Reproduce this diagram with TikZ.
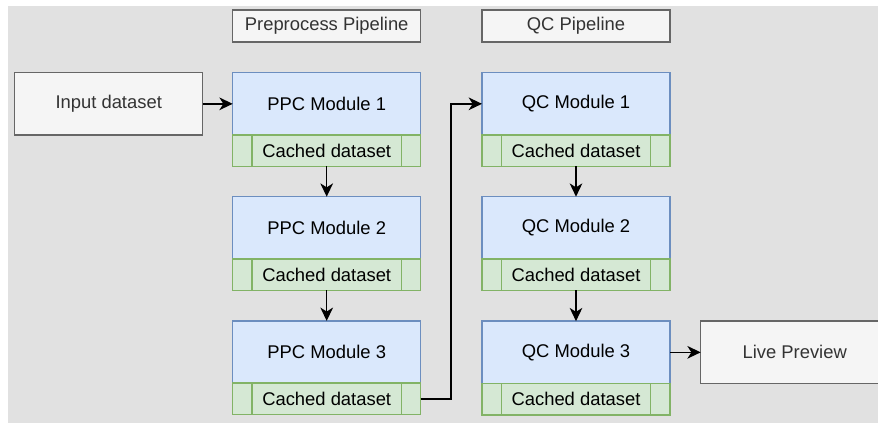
\documentclass[tikz,border=0pt]{standalone}
\usepackage{fontspec}
\setmainfont{Liberation Sans}
\usetikzlibrary{arrows.meta}

\definecolor{bgGrey}{HTML}{E1E1E1}
\definecolor{blueF}{HTML}{DAE8FC}
\definecolor{blueD}{HTML}{6C8EBF}
\definecolor{greenF}{HTML}{D5E8D4}
\definecolor{greenD}{HTML}{82B366}
\definecolor{greyF}{HTML}{F5F5F5}
\definecolor{greyD}{HTML}{666666}
\definecolor{greyT}{HTML}{333333}

\tikzset{
  base/.style={rectangle, inner sep=0pt, outer sep=0pt, line width=1.1pt,
    font=\fontsize{13.8}{16}\selectfont, anchor=north west},
  modbox/.style={base, draw=blueD, fill=blueF, minimum width=141pt, minimum height=46.7pt},
  cachebox/.style={base, draw=greenD, fill=greenF, minimum width=141pt, minimum height=23.6pt},
  greybox/.style={base, draw=greyD, fill=greyF, text=greyT, minimum width=141pt, minimum height=46.7pt},
  headbox/.style={base, draw=greyD, fill=greyF, text=greyT, minimum width=141pt, minimum height=24pt},
  flow/.style={line width=1.1pt, -{Stealth[length=10pt,width=9.5pt,inset=3pt]}},
}

% one pipeline stage: module box with its cache bar underneath
\newcommand\pipemodule[4]{% name, x, y, label
  \node[modbox] (#1) at (#2,#3) {#4};
  \node[cachebox, anchor=north] (#1c) at (#1.south) {Cached dataset};
  \draw[greenD, line width=1.1pt]
    ([xshift=14.5pt]#1c.north west) -- ([xshift=14.5pt]#1c.south west)
    ([xshift=-14.5pt]#1c.north east) -- ([xshift=-14.5pt]#1c.south east);
}

\begin{document}
\begin{tikzpicture}[x=0.75pt, y=-0.75pt]
  \useasboundingbox (0,0) rectangle (878,423);
  \clip (0,0) rectangle (878,423);
  \fill[bgGrey] (8,6) rectangle (878,423);

  % column headers
  \node[headbox] (hppc) at (232.7,10) {Preprocess Pipeline};
  \node[headbox] (hqc)  at (482,10)   {QC Pipeline};

  % input and output
  \node[greybox] (inp)  at (14.7,72.7)  {Input dataset};
  \node[greybox] (live) at (700.7,321.2) {Live Preview};

  % preprocess stages
  \pipemodule{ppc1}{232.7}{72.7}{PPC Module 1}
  \pipemodule{ppc2}{232.7}{196.7}{PPC Module 2}
  \pipemodule{ppc3}{232.7}{320.9}{PPC Module 3}

  % QC stages
  \pipemodule{qc1}{482}{72.7}{QC Module 1}
  \pipemodule{qc2}{482}{196.7}{QC Module 2}
  \pipemodule{qc3}{482}{321.2}{QC Module 3}

  \coordinate (bendx) at (451,0);

  % connectors
  \draw[flow] (inp) -- (ppc1);
  \draw[flow] (ppc1c) -- (ppc2);
  \draw[flow] (ppc2c) -- (ppc3);
  \draw[flow] (ppc3c.east) -- (ppc3c.east -| bendx) |- (qc1.west);
  \draw[flow] (qc1c) -- (qc2);
  \draw[flow] (qc2c) -- (qc3);
  \draw[flow] (qc3) -- (live);
\end{tikzpicture}
\end{document}
